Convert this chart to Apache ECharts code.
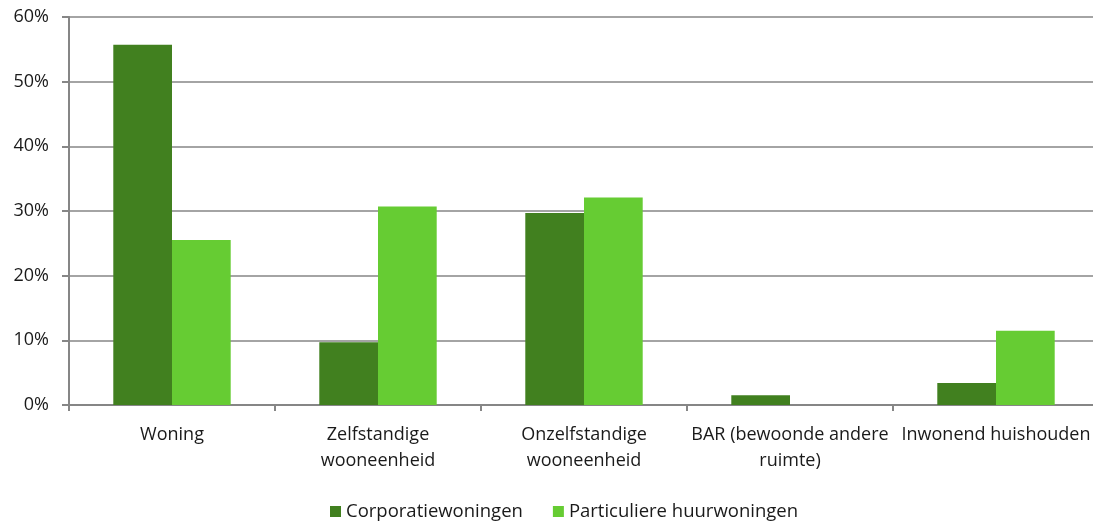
<!DOCTYPE html>
<html>
<head>
<meta charset="utf-8">
<script src="https://cdn.jsdelivr.net/npm/echarts@6/dist/echarts.min.js"></script>
<style>
  html, body { margin: 0; padding: 0; background: #fff; }
  #chart { width: 1093px; height: 522px; }
</style>
</head>
<body>
<div id="chart"></div>
<script>
// Woonsituatie per type huurwoning (aandeel in %)
const categories = [
  'Woning',
  'Zelfstandige\nwooneenheid',
  'Onzelfstandige\nwooneenheid',
  'BAR (bewoonde andere\nruimte)',
  'Inwonend huishouden'
];
const corporatie = [55.7, 9.7, 29.7, 1.5, 3.4];
const particulier = [25.5, 30.7, 32.1, 0, 11.5];
const seriesNames = ['Corporatiewoningen', 'Particuliere huurwoningen'];

const font = '"Open Sans", "Liberation Sans", sans-serif';
const textColor = '#1a1a1a';
const chart = echarts.init(document.getElementById('chart'));
chart.setOption({
  animation: false,
  textStyle: { fontFamily: font },
  color: ['#41801f', '#66cc33'],
  grid: { left: 69, top: 17, width: 1030, height: 388, outerBoundsMode: 'none', containLabel: false },
  legend: {
    top: 497,
    left: 325,
    itemWidth: 11,
    itemHeight: 11,
    itemGap: 30,
    icon: 'rect',
    textStyle: { fontSize: 18.5, color: textColor, fontFamily: font },
    data: seriesNames
  },
  xAxis: {
    type: 'category',
    data: categories,
    axisLine: { lineStyle: { color: '#868686', width: 2 } },
    axisTick: { show: true, length: 6, lineStyle: { color: '#868686', width: 2 } },
    axisLabel: { color: textColor, fontSize: 18, lineHeight: 26, margin: 17, interval: 0 }
  },
  yAxis: {
    type: 'value',
    min: 0,
    max: 60,
    interval: 10,
    axisLine: { show: true, lineStyle: { color: '#868686', width: 2 } },
    axisTick: { show: true, length: 7, lineStyle: { color: '#868686', width: 2 } },
    splitLine: { lineStyle: { color: '#868686', width: 1.5 } },
    axisLabel: { color: textColor, fontSize: 18, margin: 20, formatter: '{value}%' }
  },
  series: [
    { name: seriesNames[0], type: 'bar', data: corporatie, barGap: '0%', barCategoryGap: '43%' },
    { name: seriesNames[1], type: 'bar', data: particulier, barGap: '0%', barCategoryGap: '43%' }
  ]
});
</script>
</body>
</html>
